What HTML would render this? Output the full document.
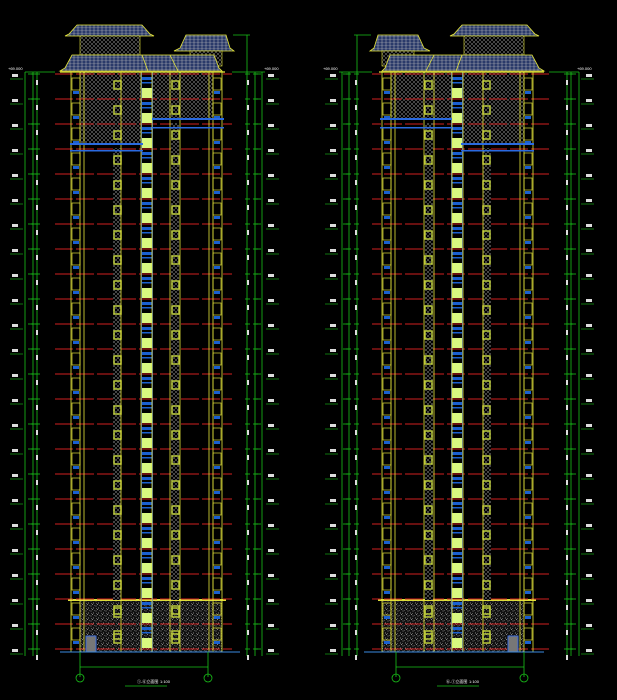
<!DOCTYPE html>
<html><head><meta charset="utf-8"><style>
html,body{margin:0;padding:0;background:#000;width:617px;height:700px;overflow:hidden}
svg{display:block}
text{font-family:"Liberation Sans",sans-serif;font-size:4px;fill:#fff}
</style></head><body>
<svg id="s" width="617" height="700" viewBox="0 0 617 700" xmlns="http://www.w3.org/2000/svg">
<defs>
<pattern id="hx" width="4" height="4" patternUnits="userSpaceOnUse"><rect width="4" height="4" fill="#000"/><path d="M0 0L4 4M4 0L0 4" stroke="#8a8a8a" stroke-width="0.5"/></pattern>
<pattern id="tile" width="4" height="3" patternUnits="userSpaceOnUse"><rect width="4" height="3" fill="#2a3a6a"/><path d="M0 0H4M2 0V3" stroke="#bbb" stroke-width="0.5"/></pattern>
<pattern id="dot" width="5" height="5" patternUnits="userSpaceOnUse"><rect width="5" height="5" fill="#111"/><path d="M0.5 1h1M3 3h1M2 4.5h1M4 0.5h0.5M1 3.5h0.6" stroke="#aaa" stroke-width="0.7"/></pattern>
</defs>
<g id="L"></g>
<g id="R" transform="translate(604,0) scale(-1,1)"></g>
<g id="T"></g>
</svg>
<script>
var NS="http://www.w3.org/2000/svg";
function el(p,t,a){var e=document.createElementNS(NS,t);for(var k in a)e.setAttribute(k,a[k]);p.appendChild(e);return e;}
function build(g){
 var Y0=74,S=25,G=652;
 el(g,"rect",{x:80,y:72,width:62,height:73,fill:"url(#hx)"});
 el(g,"rect",{x:152,y:72,width:61,height:48,fill:"url(#hx)"});
 el(g,"rect",{x:80,y:601,width:142,height:51,fill:"url(#dot)"});
 el(g,"rect",{x:68,y:599,width:158,height:2,fill:"#dede3a"});
 for(var i=0;i<=23;i++){var y=Y0+S*i;el(g,"line",{x1:55,y1:y,x2:232,y2:y,stroke:"#d02020","stroke-width":0.9,"stroke-dasharray":"18 3"});}
 el(g,"rect",{x:113,y:148,width:8,height:452,fill:"url(#hx)"});
 el(g,"rect",{x:171,y:123,width:8,height:477,fill:"url(#hx)"});
 for(var i=0;i<23;i++){var y=Y0+S*i;
  el(g,"rect",{x:142,y:y+14,width:10,height:10,fill:"#d8f880"});
  el(g,"rect",{x:142,y:y+3,width:10,height:3,fill:"#1a60d0"});
  el(g,"rect",{x:142,y:y+8,width:10,height:1.5,fill:"#1a60d0"});
 }
 el(g,"rect",{x:141.5,y:72,width:11,height:580,fill:"none",stroke:"#3a6ad8","stroke-width":0.8});
 for(var i=0;i<23;i++){var y=Y0+S*i+7;
  [113,171].forEach(function(x){el(g,"rect",{x:x+1,y:y,width:7,height:8,fill:"none",stroke:"#b8c83a","stroke-width":1.5});});
  [72,213].forEach(function(x){
   el(g,"rect",{x:x,y:y-3,width:8,height:12,fill:"none",stroke:"#dede3a","stroke-width":0.7});
   el(g,"rect",{x:x+1,y:y+10,width:6,height:3,fill:"#1a60d0"});
  });
 }
 [71,80,84,121,141,152,170,180,209,213,222].forEach(function(x){el(g,"line",{x1:x,y1:72,x2:x,y2:G,stroke:"#e8e83a","stroke-width":0.8});});
 el(g,"rect",{x:70,y:143,width:73,height:2,fill:"#2a6ae0"});
 el(g,"rect",{x:70,y:150,width:73,height:1.5,fill:"#2a6ae0"});
 el(g,"rect",{x:152,y:118,width:72,height:2,fill:"#2a6ae0"});
 el(g,"rect",{x:152,y:127,width:72,height:1.5,fill:"#2a6ae0"});
 el(g,"polygon",{points:"77,25 142,25 150,34 154,36 65,36 69,34",fill:"url(#tile)",stroke:"#e8e83a","stroke-width":0.8});
 el(g,"rect",{x:80,y:36,width:60,height:19,fill:"url(#hx)",stroke:"#e8e83a","stroke-width":0.6});
 el(g,"polygon",{points:"186,35 226,35 230,48 234,51 174,51 180,48",fill:"url(#tile)",stroke:"#e8e83a","stroke-width":0.8});
 el(g,"rect",{x:190,y:51,width:32,height:15,fill:"url(#hx)",stroke:"#e8e83a","stroke-width":0.6});
 el(g,"polygon",{points:"72,55 214,55 219,68 222,71 60,71 65,68",fill:"url(#tile)",stroke:"#e8e83a","stroke-width":0.8});
 el(g,"line",{x1:142,y1:55,x2:148,y2:71,stroke:"#e8e83a","stroke-width":0.8});
 el(g,"line",{x1:170,y1:55,x2:178,y2:71,stroke:"#e8e83a","stroke-width":0.8});
 el(g,"line",{x1:60,y1:72,x2:225,y2:72,stroke:"#e8e83a","stroke-width":1.2});
 el(g,"rect",{x:86,y:636,width:10,height:16,fill:"#777",stroke:"#3a6ad8","stroke-width":1});
 [[113,608],[171,608],[113,634],[171,634]].forEach(function(p){el(g,"rect",{x:p[0]+1,y:p[1],width:7,height:9,fill:"none",stroke:"#b8c83a","stroke-width":1.5});});
 el(g,"line",{x1:60,y1:652,x2:240,y2:652,stroke:"#3a8ae0","stroke-width":1});
 [25,33,37,247,255,262].forEach(function(x){el(g,"line",{x1:x,y1:72,x2:x,y2:656,stroke:"#19c319","stroke-width":0.8});});
 el(g,"line",{x1:247,y1:35,x2:247,y2:72,stroke:"#19c319","stroke-width":0.8});
 el(g,"line",{x1:233,y1:35,x2:250,y2:35,stroke:"#19c319","stroke-width":0.8});
 el(g,"line",{x1:25,y1:72,x2:55,y2:72,stroke:"#19c319","stroke-width":0.8});
 el(g,"line",{x1:232,y1:72,x2:265,y2:72,stroke:"#19c319","stroke-width":0.8});
 for(var i=0;i<=23;i++){var y=Y0+S*i;
  [30,33,37,247,255,258].forEach(function(x){el(g,"line",{x1:x-2,y1:y,x2:x+3,y2:y,stroke:"#19c319","stroke-width":0.8});});
  el(g,"line",{x1:10,y1:y+5,x2:23,y2:y+5,stroke:"#19c319","stroke-width":0.6});
  el(g,"line",{x1:266,y1:y+5,x2:279,y2:y+5,stroke:"#19c319","stroke-width":0.6});
  el(g,"rect",{x:12,y:y,width:6,height:3,fill:"#ddd"});
  el(g,"rect",{x:268,y:y,width:6,height:3,fill:"#ddd"});
  el(g,"rect",{x:36,y:y+6,width:2,height:5,fill:"#ddd"});
  el(g,"rect",{x:247,y:y+6,width:2,height:5,fill:"#ddd"});
 }
 el(g,"line",{x1:80,y1:652,x2:80,y2:677,stroke:"#19c319","stroke-width":0.8});
 el(g,"line",{x1:208,y1:652,x2:208,y2:677,stroke:"#19c319","stroke-width":0.8});
 el(g,"line",{x1:80,y1:667,x2:208,y2:667,stroke:"#19c319","stroke-width":0.8});
 el(g,"circle",{cx:80,cy:678,r:4,fill:"none",stroke:"#19c319","stroke-width":0.8});
 el(g,"circle",{cx:208,cy:678,r:4,fill:"none",stroke:"#19c319","stroke-width":0.8});
 el(g,"line",{x1:125,y1:686,x2:167,y2:686,stroke:"#19c319","stroke-width":0.8});
}
build(document.getElementById("L"));
build(document.getElementById("R"));
var T=document.getElementById("T");
function tx(x,y,s){var t=el(T,"text",{x:x,y:y});t.textContent=s;}
tx(137,683,"①-⑥立面图");tx(160,683,"1:100");
tx(446,683,"⑥-①立面图");tx(469,683,"1:100");
tx(8,70,"+69.000");tx(264,70,"+69.000");tx(323,70,"+69.000");tx(577,70,"+69.000");
</script>
</body></html>
